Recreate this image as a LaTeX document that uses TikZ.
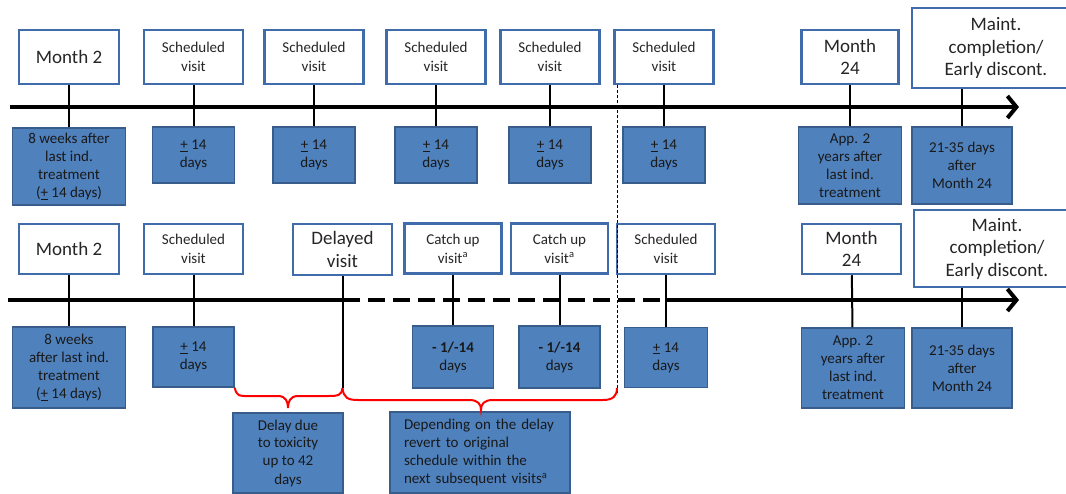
\documentclass[tikz,border=0pt]{standalone}
\usepackage{fontspec}
\setmainfont{Carlito}
\usetikzlibrary{arrows.meta}
\definecolor{boxblue}{RGB}{79,129,189}
\definecolor{boxedge}{RGB}{56,93,138}
\definecolor{frameblue}{RGB}{65,108,172}
\tikzset{>={Straight Barb[length=9pt,width=22pt]},
  visit/.style={draw=frameblue, line width=2.5pt, fill=white, align=center, inner sep=0pt, text=black!85},
  info/.style={draw=boxedge, line width=1.5pt, fill=boxblue, align=center, inner sep=0pt, text=black!90, font=\fontsize{15}{18}\selectfont},
  dim/.style 2 args={minimum width=#1pt, minimum height=#2pt},
  small/.style={font=\fontsize{15}{19}\selectfont},
  big/.style={font=\fontsize{19}{22.5}\selectfont},
  axis/.style={line width=4pt},
  tick/.style={line width=2pt},
  divider/.style={line width=1pt, dash pattern=on 3pt off 2pt},
  brace/.style={red, line width=2pt}
}

\begin{document}
\begin{tikzpicture}[x=1pt, y=-1pt]
\clip (0,0) rectangle (1066,494);
\fill[white] (0,0) rectangle (1066,494);

% top time line
\coordinate (axa) at (10,107);
\coordinate (axaend) at (1019,107);
\draw[axis, ->] (axa) -- (axaend);

\node[visit, big, dim={100}{54}] (mtwoa) at (69,57) {Month 2};
\node[info, dim={113}{77}] (wka) at (69,166.5) {8 weeks after\\last ind.\\treatment\\(\underline{+} 14 days)};
\draw[tick] (mtwoa) -- (wka);

\foreach \n/\x in {1/193.5, 2/314, 3/436, 4/550, 5/664}{
	\node[visit, small, dim={99}{54}] (sva\n) at (\x,57) {Scheduled\\visit};
	\node[info, dim={82}{56}] (pda\n) at (\x,155) {\underline{+} 14\\days};
	\draw[tick] (sva\n) -- (pda\n);
}

\node[visit, big, dim={97}{54}] (mtfa) at (850,57) {Month\\24};
\node[info, dim={103}{77}] (appa) at (850,165.5) {App. 2\\years after\\last ind.\\treatment};
\draw[tick] (mtfa) -- (appa);

\node[visit, big, dim={168}{80}] (mnta) at (996,48) {Maint.\\completion/\\Early discont.};
\node[info, dim={100}{77}] (afta) at (962,165.5) {21-35 days\\after\\Month 24};
\draw[tick] (mnta.south -| afta.north) -- (afta.north);

% bottom time line
\node[visit, big, dim={100}{50}] (mtwob) at (69,249) {Month 2};
\node[info, dim={113}{81}] (wkb) at (69,367.5) {8 weeks\\after last ind.\\treatment\\(\underline{+} 14 days)};
\node[visit, small, dim={99}{50}] (svb1) at (193.5,249) {Scheduled\\visit};
\node[info, dim={81}{60}] (pdb1) at (193.5,357) {\underline{+} 14\\days};
\node[visit, big, dim={99}{51}] (dlb) at (342.5,249.5) {Delayed\\visit};
\foreach \n/\x in {1/453, 2/559.5}{
	\node[visit, small, dim={97}{50}] (cub\n) at (\x,248.5) {Catch up\\visit\textsuperscript{a}};
	\node[info, dim={81}{62}] (mob\n) at (\x,357) {\textbf{- 1/-14}\\days};
}
\node[visit, small, dim={98}{50}] (svb2) at (666,249) {Scheduled\\visit};
\node[info, dim={83}{60}] (pdb2) at (666,357.5) {\underline{+} 14\\days};
\node[visit, big, dim={99}{50}] (mtfb) at (851.5,249) {Month\\24};
\node[info, dim={103}{80}] (appb) at (853,368) {App. 2\\years after\\last ind.\\treatment};
\node[visit, big, dim={166}{77}] (mntb) at (997,248.5) {Maint.\\completion/\\Early discont.};
\node[info, dim={100}{80}] (aftb) at (962,368) {21-35 days\\after\\Month 24};

\coordinate (axb) at (8,300);
\coordinate (axbend) at (1019,300);
\draw[axis] (axb) -- (axb -| dlb.south);
\draw[axis, dash pattern=on 17pt off 8pt] (axb -| dlb.south) -- (axb -| svb2.south);
\draw[axis, ->] (axb -| svb2.south) -- (axbend);

\foreach \a/\b in {mtwob/wkb, svb1/pdb1, cub1/mob1, cub2/mob2, svb2/pdb2, mtfb/appb}{
	\draw[tick] (\a) -- (\b);
}
\draw[tick] (mntb.south -| aftb.north) -- (aftb.north);

\coordinate (dlend) at (dlb.south |- 0,388);
\draw[tick] (dlb.south) -- (dlend);

% separator
\coordinate (sepa) at (617,85);
\coordinate (sepb) at (617,395);
\draw[divider] (sepa) -- (sepb);

% notes below
\node[info, dim={110}{80}] (tox) at (288,453) {Delay due\\to toxicity\\up to 42\\days};
\node[info, dim={180}{81}, text width=152pt, align=left] (dep) at (480,452.5) {Depending on the delay\\revert to original\\schedule within the\\next subsequent visits\textsuperscript{a}};

\coordinate (tipa) at (288,408);
\coordinate (tipb) at (481,410);
\coordinate (brend) at (617,388);
\draw[brace] (pdb1.south east) .. controls +(2,9) and +(-8,0) .. (248,396) -- (278,396)
	.. controls +(8,0) and +(0,-6) .. (tipa) .. controls +(0,-6) and +(-8,0) .. (298,396)
	-- (329,396) .. controls +(8,0) and +(-1,8) .. (dlend);
\draw[brace] (dlend) .. controls +(1,10) and +(-10,0) .. (358,400) -- (469,400)
	.. controls +(9,0) and +(0,-6) .. (tipb) .. controls +(0,-6) and +(-9,0) .. (493,400)
	-- (603,400) .. controls +(10,0) and +(0,8) .. (brend);
\end{tikzpicture}
\end{document}
